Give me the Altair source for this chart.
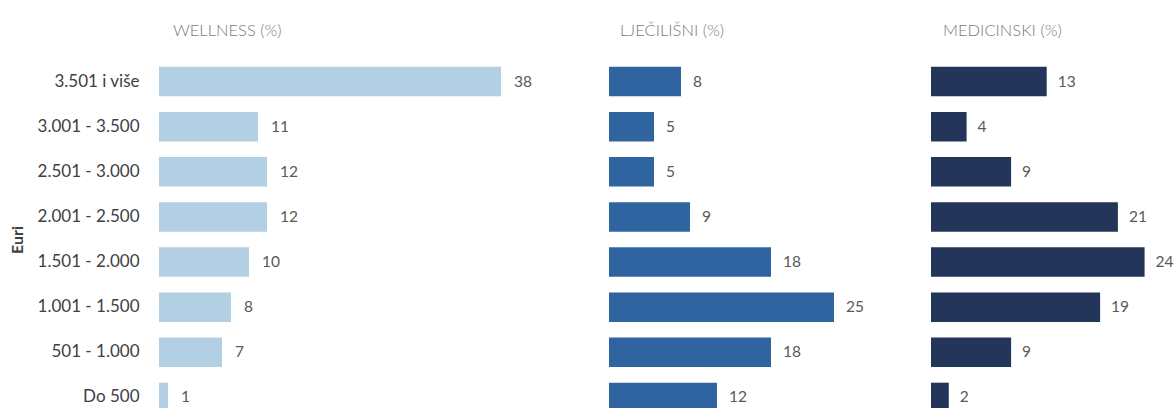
import altair as alt
import pandas as pd

categories = ["3.501 i više", "3.001 - 3.500", "2.501 - 3.000", "2.001 - 2.500",
              "1.501 - 2.000", "1.001 - 1.500", "501 - 1.000", "Do 500"]
wellness = [38, 11, 12, 12, 10, 8, 7, 1]
ljecilisni = [8, 5, 5, 9, 18, 25, 18, 12]
medicinski = [13, 4, 9, 21, 24, 19, 9, 2]

series_names = ["WELLNESS (%)", "LJEČILIŠNI (%)", "MEDICINSKI (%)"]
series_values = [wellness, ljecilisni, medicinski]
colors = ["#b3cfe3", "#2f64a0", "#23365a"]
widths = [430, 302, 232]
px_per_unit = [9.0, 9.0, 8.9]
title_dx = [14, 11, 12]
label_dx = [13, 12, 11]
FONT = "Lato, sans-serif"

rows = []
for name, vals in zip(series_names, series_values):
    for c, v in zip(categories, vals):
        rows.append({"cat": c, "series": name, "value": v})
df = pd.DataFrame(rows)

panels = []
for i, (name, col, w) in enumerate(zip(series_names, colors, widths)):
    yaxis = alt.Axis(title="Euri", labelPadding=20, ticks=False, domain=False,
                     labelFontSize=17, labelColor="#404040", labelFont=FONT,
                     titleFont=FONT, titleFontSize=16, titleColor="#404040",
                     titleFontWeight="bold", titlePadding=12) if i == 0 else None
    y = alt.Y("cat:N", sort=categories,
              scale=alt.Scale(paddingInner=0.346, paddingOuter=0.173),
              axis=yaxis)
    x = alt.X("value:Q", scale=alt.Scale(domain=[0, w / px_per_unit[i]], nice=False, zero=True),
              axis=None)
    base = alt.Chart(df).transform_filter(alt.datum.series == name)
    bars = base.mark_bar(color=col).encode(x=x, y=y)
    labels = base.mark_text(align="left", baseline="middle", dx=label_dx[i], fontSize=15.5,
                            color="#595959", font=FONT).encode(
        x=x, y=y, text=alt.Text("value:Q", format="d"))
    layer = alt.layer(bars, labels).properties(
        width=w, height=361,
        title=alt.TitleParams(name, anchor="start", frame="group", offset=20, fontSize=16.5,
                              fontWeight=300, color="#7a7a7a", font=FONT, dx=title_dx[i]))
    panels.append(layer)

chart = alt.hconcat(*panels, spacing=20).properties(
    padding={"left": 9, "top": 22, "right": 0, "bottom": 5}
).configure(background="white", view=alt.ViewConfig(stroke=None))

chart.save("out.html", embed_options={"renderer": "svg", "actions": False})
